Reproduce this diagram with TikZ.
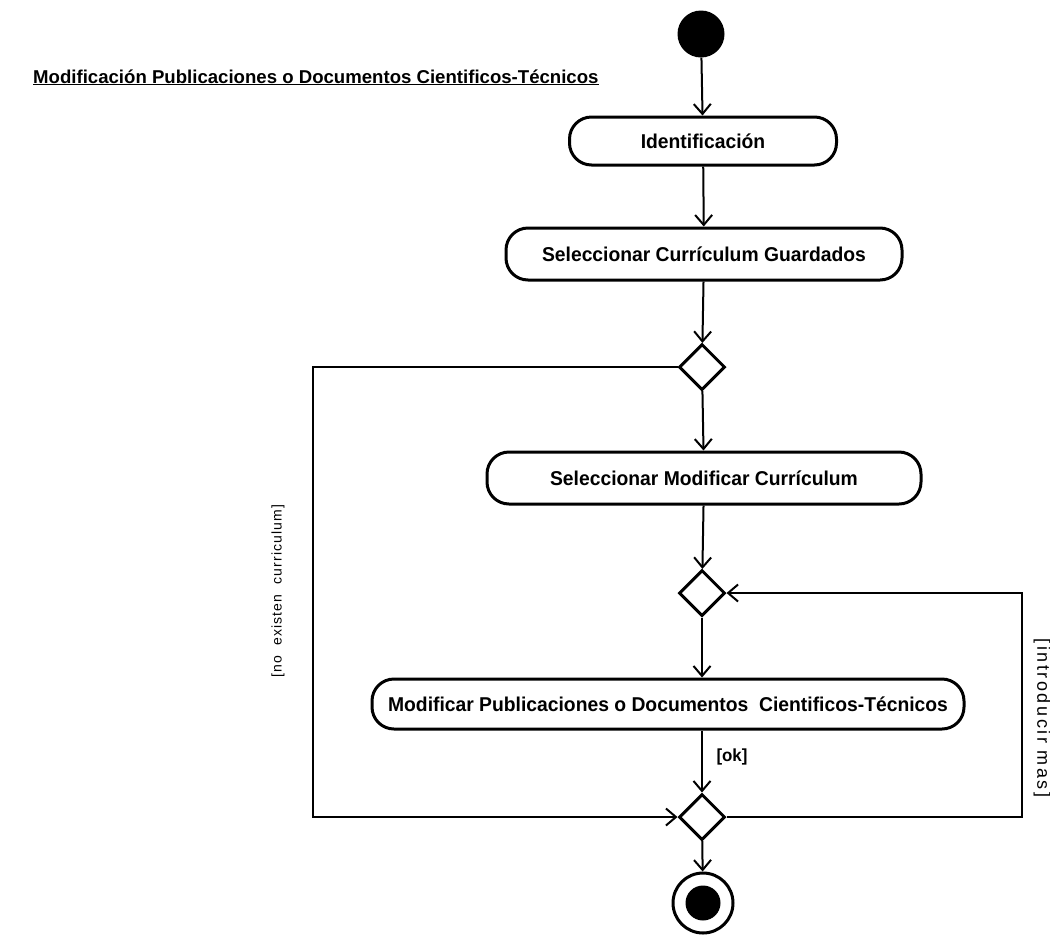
\documentclass[tikz,border=0pt]{standalone}
\usepackage{fontspec}
\setmainfont{Liberation Sans}
\newfontfamily\boxfont[FakeStretch=0.965]{Liberation Sans}
\newfontfamily\labfonta[LetterSpace=8]{Liberation Sans}
\newfontfamily\labfontb[LetterSpace=14]{Liberation Sans}
\usetikzlibrary{arrows.meta,shapes.geometric,calc}
\begin{document}
\begin{tikzpicture}[x=1pt,y=-1pt,
  act/.style={draw,line width=3pt,rounded corners=22pt,minimum height=50pt,inner sep=0pt,
    font=\boxfont\bfseries\fontsize{20}{22}\selectfont},
  dec/.style={draw,line width=3pt,diamond,minimum width=46pt,minimum height=46pt,inner sep=0pt,aspect=1},
  flow/.style={line width=2pt,-{Straight Barb[length=10pt,width=17pt,line width=2pt]}},
  guard/.style={inner sep=0pt}]
\useasboundingbox (0,0) rectangle (1050,938);
% title
\node[anchor=base west,inner sep=0pt,font=\bfseries\fontsize{18.6}{20}\selectfont] (title) at (33,83)
  {\underline{Modificación Publicaciones o Documentos Cientificos-Técnicos}};
% nodes
\node[circle,fill=black,minimum size=47pt,inner sep=0pt] (start) at (701,34) {};
\node[act,minimum width=267pt,minimum height=48pt] (a1) at (703,141) {Identificación};
\node[act,minimum width=396pt,minimum height=52pt] (a2) at (704,254) {Seleccionar Currículum Guardados};
\node[dec] (d1) at (702,367) {};
\node[act,minimum width=434pt,minimum height=52pt] (a3) at (704,478) {Seleccionar Modificar Currículum};
\node[dec] (d2) at (702,593) {};
\node[act,minimum width=592pt,minimum height=50pt] (a4) at (668,704) {Modificar Publicaciones o Documentos\ \ Cientificos-Técnicos};
\node[dec] (d3) at (702,817) {};
\node[circle,draw,line width=3pt,minimum size=60pt,inner sep=0pt] (end) at (703,903) {};
\node[circle,fill=black,minimum size=35pt,inner sep=0pt] (endin) at (end.center) {};
% connectors
\draw[flow] (start) -- (a1);
\draw[flow] (a1) -- (a2);
\draw[flow] (a2) -- (d1);
\draw[flow] (d1) -- (a3);
\draw[flow] (a3) -- (d2);
\draw[flow] (d2) -- (d2 |- a4.north);
\draw[flow] (d3 |- a4.south) -- (d3);
\draw[flow] (d3) -- (end);
\coordinate (l1) at (313,367);
\coordinate (l2) at (313,817);
\draw[flow] (d1.west) -- (l1) -- (l2) -- (d3.west);
\coordinate (r1) at (1022,817);
\coordinate (r2) at (1022,593);
\draw[flow] (d3.east) -- (r1) -- (r2) -- (d2.east);
% labels
\node[font=\boxfont\bfseries\fontsize{17.5}{19}\selectfont,inner sep=0pt] (ok) at (732,757) {[ok]};
\node[guard,rotate=90,font=\labfonta\fontsize{14}{16}\selectfont] (g1) at (278,591) {[no\ \ existen\ \ curriculum]};
\node[guard,rotate=-90,font=\labfontb\fontsize{18}{20}\selectfont] (g2) at (1042,718) {[introducir mas]};
\end{tikzpicture}
\end{document}
